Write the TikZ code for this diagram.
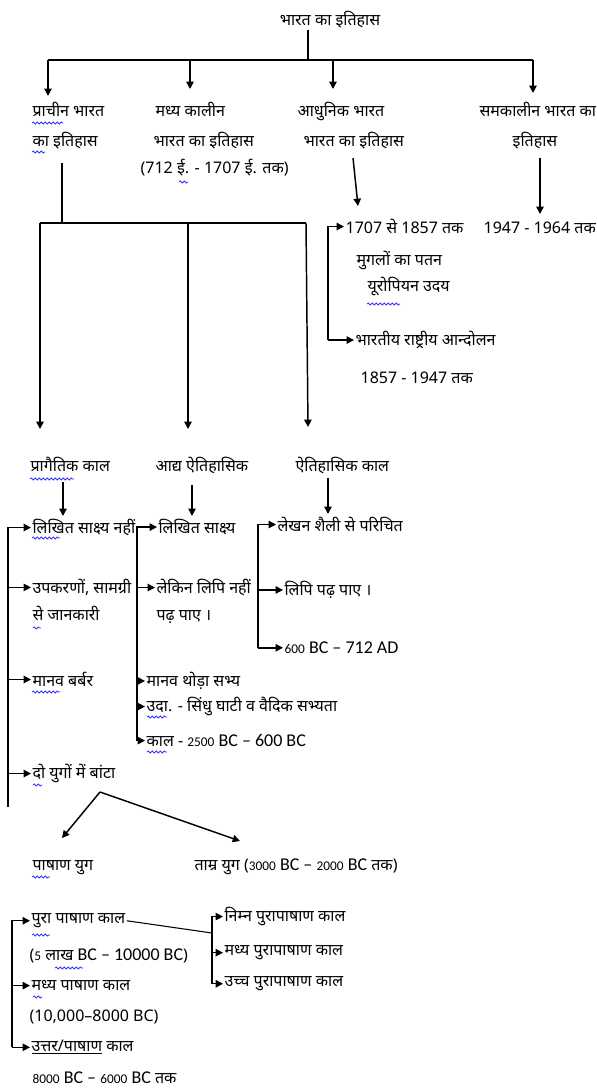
\documentclass[tikz,border=0pt]{standalone}
\usepackage{fontspec}
\setmainfont[Script=Devanagari]{Noto Sans}
\newfontfamily\calfont{Carlito}
\usetikzlibrary{arrows.meta,positioning,calc,decorations.pathmorphing}
\newcommand{\bcbig}[1]{{\calfont\fontsize{13.5}{15}\selectfont #1}}
\newcommand{\bcsmall}[1]{{\calfont\fontsize{10}{12}\selectfont #1}}

\begin{document}
\begin{tikzpicture}[
  x=0.75pt,y=-0.75pt,
  every node/.style={font=\fontsize{12}{14}\selectfont,inner sep=1pt},
  lbl/.style={anchor=mid west},
  mid lbl/.style={anchor=mid},
  link/.style={draw,line width=1.1pt},
  arr/.style={link,-{Triangle[length=5.5pt,width=5.5pt]}},
  spell/.style={draw=blue!80,line width=0.6pt,decorate,decoration={snake,amplitude=0.8pt,segment length=3pt}},
]
\useasboundingbox[fill=white] (0,0) rectangle (596,1088);

\node[mid lbl] (bharat) at (330,22) {भारत का इतिहास};
\node[lbl] (prachin) at (31,113) {प्राचीन भारत};
\node[lbl] (prachin2) at (31,143) {का इतिहास};
\node[lbl] (madhya) at (154,113) {मध्य कालीन};
\node[lbl] (madhya2) at (152,143) {भारत का इतिहास};
\node[lbl] (madhya3) at (139,170) {(712 ई. - 1707 ई. तक)};
\node[lbl] (adhunik) at (296,113) {आधुनिक भारत};
\node[lbl] (adhunik2) at (302,143) {भारत का इतिहास};
\node[lbl] (samkal) at (478,113) {समकालीन भारत का};
\node[mid lbl] (samkal2) at (535,143) {इतिहास};

\node[lbl] (mughal) at (344,230) {1707 से 1857 तक};
\node[lbl] (mughal2) at (355,262) {मुगलों का पतन};
\node[lbl] (mughal3) at (366,288) {यूरोपियन उदय};
\node[lbl] (samkal3) at (482,230) {1947 - 1964 तक};
\node[lbl] (andolan) at (354,342) {भारतीय राष्ट्रीय आन्दोलन};
\node[lbl] (andolan2) at (359,380) {1857 - 1947 तक};

\node[lbl] (pragait) at (29,468) {प्रागैतिक काल};
\node[lbl] (adya) at (154,468) {आद्य ऐतिहासिक};
\node[lbl] (aiti) at (294,468) {ऐतिहासिक काल};

\node[lbl] (p1) at (31,530) {लिखित साक्ष्य नहीं};
\node[lbl] (p2) at (31,590) {उपकरणों, सामग्री};
\node[lbl] (p2b) at (31,617) {से जानकारी};
\node[lbl] (p3) at (31,683) {मानव बर्बर};
\node[lbl] (p4) at (31,775) {दो युगों में बांटा};

\node[lbl] (a1) at (157,530) {लिखित साक्ष्य};
\node[lbl] (a2) at (155,590) {लेकिन लिपि नहीं};
\node[lbl] (a2b) at (155,617) {पढ़ पाए ।};
\node[lbl] (a3) at (145,683) {मानव थोड़ा सभ्य};
\node[lbl] (a4) at (145,708) {उदा. - सिंधु घाटी व वैदिक सभ्यता};
\node[lbl] (a5) at (145,743) {काल - \bcsmall{2500} \bcbig{BC – 600 BC}};

\node[lbl] (h1) at (276,528) {लेखन शैली से परिचित};
\node[lbl] (h2) at (283,592) {लिपि पढ़ पाए ।};
\node[lbl] (h3) at (283,650) {\bcsmall{600} \bcbig{BC – 712 AD}};

\node[lbl] (pashan) at (31,867) {पाषाण युग};
\node[lbl] (tamra) at (193,867) {ताम्र युग (\bcsmall{3000} \bcbig{BC –} \bcsmall{2000} \bcbig{BC} तक)};

\node[lbl] (pura) at (30,920) {पुरा पाषाण काल};
\node[lbl] (pura2) at (28,957) {(\bcsmall{5} लाख \bcbig{BC – 10000 BC})};
\node[lbl] (madhyap) at (30,987) {मध्य पाषाण काल};
\node[lbl] (madhyap2) at (28,1018) {(10,000–8000 BC)};
\node[lbl] (uttar) at (30,1048) {\underline{उत्तर/पाषाण} काल};
\node[lbl] (uttar2) at (31,1080) {\bcsmall{8000} \bcbig{BC –} \bcsmall{6000} \bcbig{BC} तक};

\node[lbl] (nimn) at (223,918) {निम्न पुरापाषाण काल};
\node[lbl] (madhyapura) at (223,952) {मध्य पुरापाषाण काल};
\node[lbl] (uchch) at (223,983) {उच्च पुरापाषाण काल};

\coordinate (hub) at (308,60);
\coordinate (busL) at (48,60);
\coordinate (busR) at (533,60);
\coordinate (tipA) at (48,96);
\coordinate (tipB) at (190,89);
\coordinate (tipC) at (333,89);
\coordinate (tipD) at (533,93);
\draw[link] (bharat.south -| hub) -- (hub);
\draw[link] (busL) -- (busR);
\draw[arr] (busL) -- (tipA);
\draw[arr] (busL -| tipB) -- (tipB);
\draw[arr] (busL -| tipC) -- (tipC);
\draw[arr] (busR) -- (tipD);

\coordinate (modFrom) at (353,158);
\coordinate (modTo) at (358,206);
\coordinate (modBr) at (328,232);
\coordinate (samFrom) at (540,158);
\coordinate (samTo) at (540,214);
\draw[arr] (modFrom) -- (modTo);
\draw[arr] (samFrom) -- (samTo);
\draw[arr] (andolan.west -| modBr) |- (mughal.west);
\draw[arr] (andolan.west -| modBr) -- (andolan.west);

\coordinate (ancTop) at (62,163);
\coordinate (ancBus) at (62,223);
\coordinate (ancL) at (40,223);
\coordinate (ancR) at (306,223);
\coordinate (tipP) at (40,429);
\coordinate (tipQ) at (188,429);
\coordinate (tipR) at (308,427);
\draw[link] (ancTop) -- (ancBus);
\draw[link] (ancL) -- (ancR);
\draw[arr] (ancL) -- (tipP);
\draw[arr] (ancL -| tipQ) -- (tipQ);
\draw[arr] (ancR) -- (tipR);

\coordinate (pragFrom) at (63,482);
\coordinate (pragTo) at (63,516);
\coordinate (adyaFrom) at (192,485);
\coordinate (adyaTo) at (192,516);
\coordinate (aitiFrom) at (328,478);
\coordinate (aitiTo) at (328,514);
\draw[arr] (pragFrom) -- (pragTo);
\draw[arr] (adyaFrom) -- (adyaTo);
\draw[arr] (aitiFrom) -- (aitiTo);

\coordinate (brP) at (8,807);
\coordinate (brA) at (137,530);
\coordinate (brH) at (258,528);
\draw[arr] (brP) |- (p1.west);
\draw[arr] (brP |- p2.west) -- (p2.west);
\draw[arr] (brP |- p3.west) -- (p3.west);
\draw[arr] (brP |- p4.west) -- (p4.west);
\draw[arr] (a5.west -| brA) |- (a1.west);
\draw[arr] (brA |- a2.west) -- (a2.west);
\draw[arr] (brA |- a3.west) -- (a3.west);
\draw[arr] (brA |- a4.west) -- (a4.west);
\draw[arr] (brA |- a5.west) -- (a5.west);
\draw[arr] (h3.west -| brH) |- (h1.west);
\draw[arr] (brH |- h2.west) -- (h2.west);
\draw[arr] (brH |- h3.west) -- (h3.west);

\coordinate (split) at (100,792);
\coordinate (toPashan) at (62,838);
\coordinate (toTamra) at (240,841);
\draw[arr] (split) -- (toPashan);
\draw[arr] (split) -- (toTamra);

\coordinate (brB) at (12,920);
\coordinate (brR) at (212,918);
\coordinate (brN) at (212,933);
\draw[arr] (uttar.west -| brB) |- (pura.west);
\draw[arr] (brB |- madhyap.west) -- (madhyap.west);
\draw[arr] (brB |- uttar.west) -- (uttar.west);
\draw[link,line width=0.8pt] (pura.east) -- (brN);
\draw[arr] (uchch.west -| brR) |- (nimn.west);
\draw[arr] (brR |- madhyapura.west) -- (madhyapura.west);
\draw[arr] (brR |- uchch.west) -- (uchch.west);

\draw[spell] (32,123) -- (63,123);
\draw[spell] (32,152) -- (45,152);
\draw[spell] (179,182) -- (188,182);
\draw[spell] (367,304) -- (400,304);
\draw[spell] (30,479) -- (74,479);
\draw[spell] (32,538) -- (60,538);
\draw[spell] (33,628) -- (41,628);
\draw[spell] (32,692) -- (60,692);
\draw[spell] (147,717) -- (167,717);
\draw[spell] (147,752) -- (167,752);
\draw[spell] (33,785) -- (42,785);
\draw[spell] (32,877) -- (50,877);
\draw[spell] (32,935) -- (50,935);
\draw[spell] (55,968) -- (83,968);
\draw[spell] (33,997) -- (42,997);
\end{tikzpicture}
\end{document}
